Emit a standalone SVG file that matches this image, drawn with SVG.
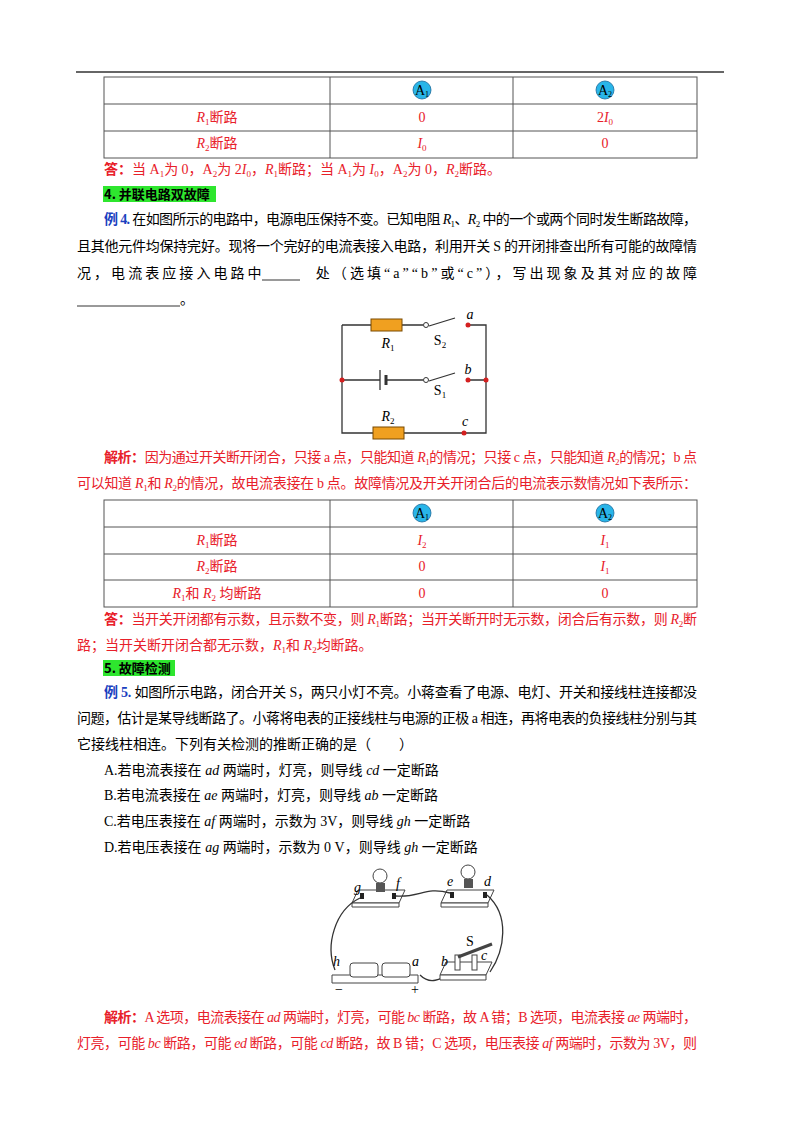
<svg xmlns="http://www.w3.org/2000/svg" width="800" height="1132" viewBox="0 0 800 1132">
<style>
text{font-family:"Liberation Serif","Noto Sans CJK SC",serif;font-size:14px;fill:#000}
.r{fill:#e8202a}
.c{text-anchor:middle}
.b{font-weight:bold}
.i{font-style:italic}
.blue{fill:#1a3fc0;font-weight:bold}
.h{font-family:"Noto Sans CJK SC",sans-serif;font-weight:bold;font-size:13px}
.tl{stroke:#555;stroke-width:1;fill:none}
.w{stroke:#333;stroke-width:1.3;fill:none}
.dot{fill:#d42020}
.res{fill:#f0a020;stroke:#7a4a00;stroke-width:1}
.amm{fill:#29b5e8;stroke:#1a6a9a;stroke-width:0.8}
.ph{stroke:#444;stroke-width:1;fill:#fff}
</style>
<line x1="76" y1="72" x2="724" y2="72" stroke="#333" stroke-width="1.5"/>
<g id="table1">
<rect x="104" y="77" width="593" height="81" class="tl"/>
<line x1="104" y1="104" x2="697" y2="104" class="tl"/>
<line x1="104" y1="131" x2="697" y2="131" class="tl"/>
<line x1="330" y1="77" x2="330" y2="158" class="tl"/>
<line x1="513" y1="77" x2="513" y2="158" class="tl"/>
<ellipse cx="422" cy="90" rx="9" ry="9" class="amm"/><text x="422" y="95" class="c" font-size="12">A<tspan font-size="8" dy="2">1</tspan></text>
<ellipse cx="605" cy="90" rx="9" ry="9" class="amm"/><text x="605" y="95" class="c" font-size="12">A<tspan font-size="8" dy="2">2</tspan></text>
<text x="217" y="122" class="r c"><tspan class="i">R</tspan><tspan font-size="9" dy="3">1</tspan><tspan dy="-3">断路</tspan></text>
<text x="422" y="122" class="r c">0</text>
<text x="605" y="122" class="r c">2<tspan class="i">I</tspan><tspan font-size="9" dy="3">0</tspan></text>
<text x="217" y="148" class="r c"><tspan class="i">R</tspan><tspan font-size="9" dy="3">2</tspan><tspan dy="-3">断路</tspan></text>
<text x="422" y="148" class="r c"><tspan class="i">I</tspan><tspan font-size="9" dy="3">0</tspan></text>
<text x="605" y="148" class="r c">0</text>
</g>
<text x="104" y="174" class="r"><tspan class="b">答：</tspan>当 A<tspan font-size="9" dy="3">1</tspan><tspan dy="-3">为 0，A</tspan><tspan font-size="9" dy="3">2</tspan><tspan dy="-3">为 2</tspan><tspan class="i">I</tspan><tspan font-size="9" dy="3">0</tspan><tspan dy="-3">，</tspan><tspan class="i">R</tspan><tspan font-size="9" dy="3">1</tspan><tspan dy="-3">断路；当 A</tspan><tspan font-size="9" dy="3">1</tspan><tspan dy="-3">为 </tspan><tspan class="i">I</tspan><tspan font-size="9" dy="3">0</tspan><tspan dy="-3">，A</tspan><tspan font-size="9" dy="3">2</tspan><tspan dy="-3">为 0，</tspan><tspan class="i">R</tspan><tspan font-size="9" dy="3">2</tspan><tspan dy="-3">断路。</tspan></text>
<rect x="103" y="186" width="113" height="16" fill="#2ee62e"/>
<text x="104" y="199" class="h">4. 并联电路双故障</text>
<text x="104" y="224" textLength="593" lengthAdjust="spacing"><tspan class="blue">例 4.</tspan> 在如图所示的电路中，电源电压保持不变。已知电阻 <tspan class="i">R</tspan><tspan font-size="9" dy="3">1</tspan><tspan dy="-3">、</tspan><tspan class="i">R</tspan><tspan font-size="9" dy="3">2</tspan><tspan dy="-3"> 中的一个或两个同时发生断路故障，</tspan></text>
<text x="77" y="251" textLength="620" lengthAdjust="spacing">且其他元件均保持完好。现将一个完好的电流表接入电路，利用开关 S 的开闭排查出所有可能的故障情</text>
<text x="77" y="278" textLength="620" lengthAdjust="spacing">况，电流表应接入电路中　　　处（选填“a”“b”或“c”），写出现象及其对应的故障</text>
<line x1="262" y1="280" x2="300" y2="280" stroke="#000" stroke-width="0.8"/>
<line x1="77" y1="306" x2="180" y2="306" stroke="#000" stroke-width="0.8"/>
<text x="180" y="304">。</text>
<g id="circuit1">
<path class="w" d="M342,325 H371 M402,325 H423 M429,326 L455,318 M466,325 H486 V433 H404 M373,433 H342 V325"/>
<path class="w" d="M342,380 H380 M386,380 H423 M429,381 L455,373 M466,380 H486"/>
<line x1="380" y1="370" x2="380" y2="390" stroke="#333" stroke-width="1.3"/>
<line x1="386" y1="375" x2="386" y2="385" stroke="#333" stroke-width="3"/>
<circle cx="426" cy="325" r="2.5" fill="#fff" stroke="#333"/>
<circle cx="426" cy="380" r="2.5" fill="#fff" stroke="#333"/>
<rect x="371" y="319" width="31" height="12" class="res"/>
<rect x="373" y="427" width="31" height="12" class="res"/>
<circle cx="468" cy="325" r="2.5" class="dot"/><circle cx="468" cy="380" r="2.5" class="dot"/>
<circle cx="486" cy="380" r="2.5" class="dot"/><circle cx="342" cy="380" r="2.5" class="dot"/>
<circle cx="464" cy="433" r="2.5" class="dot"/>
<text x="388" y="348" class="c"><tspan class="i">R</tspan><tspan font-size="9" dy="3">1</tspan></text>
<text x="388" y="421" class="c"><tspan class="i">R</tspan><tspan font-size="9" dy="3">2</tspan></text>
<text x="440" y="345" class="c">S<tspan font-size="9" dy="3">2</tspan></text>
<text x="440" y="395" class="c">S<tspan font-size="9" dy="3">1</tspan></text>
<text x="470" y="319" class="c i">a</text><text x="468" y="374" class="c i">b</text><text x="465" y="426" class="c i">c</text>
</g>
<text x="104" y="462" class="r" textLength="593" lengthAdjust="spacing"><tspan class="b">解析：</tspan>因为通过开关断开闭合，只接 a 点，只能知道 <tspan class="i">R</tspan><tspan font-size="9" dy="3">1</tspan><tspan dy="-3">的情况；只接 c 点，只能知道 </tspan><tspan class="i">R</tspan><tspan font-size="9" dy="3">2</tspan><tspan dy="-3">的情况；b 点</tspan></text>
<text x="77" y="488" class="r" textLength="620" lengthAdjust="spacing">可以知道 <tspan class="i">R</tspan><tspan font-size="9" dy="3">1</tspan><tspan dy="-3">和 </tspan><tspan class="i">R</tspan><tspan font-size="9" dy="3">2</tspan><tspan dy="-3">的情况，故电流表接在 b 点。故障情况及开关开闭合后的电流表示数情况如下表所示：</tspan></text>
<g id="table2">
<rect x="104" y="500" width="593" height="107" class="tl"/>
<line x1="104" y1="527" x2="697" y2="527" class="tl"/>
<line x1="104" y1="554" x2="697" y2="554" class="tl"/>
<line x1="104" y1="580" x2="697" y2="580" class="tl"/>
<line x1="330" y1="500" x2="330" y2="607" class="tl"/>
<line x1="513" y1="500" x2="513" y2="607" class="tl"/>
<ellipse cx="422" cy="513" rx="9" ry="9" class="amm"/><text x="422" y="518" class="c" font-size="12">A<tspan font-size="8" dy="2">1</tspan></text>
<ellipse cx="605" cy="513" rx="9" ry="9" class="amm"/><text x="605" y="518" class="c" font-size="12">A<tspan font-size="8" dy="2">2</tspan></text>
<text x="217" y="545" class="r c"><tspan class="i">R</tspan><tspan font-size="9" dy="3">1</tspan><tspan dy="-3">断路</tspan></text>
<text x="422" y="545" class="r c"><tspan class="i">I</tspan><tspan font-size="9" dy="3">2</tspan></text>
<text x="605" y="545" class="r c"><tspan class="i">I</tspan><tspan font-size="9" dy="3">1</tspan></text>
<text x="217" y="571" class="r c"><tspan class="i">R</tspan><tspan font-size="9" dy="3">2</tspan><tspan dy="-3">断路</tspan></text>
<text x="422" y="571" class="r c">0</text>
<text x="605" y="571" class="r c"><tspan class="i">I</tspan><tspan font-size="9" dy="3">1</tspan></text>
<text x="217" y="598" class="r c"><tspan class="i">R</tspan><tspan font-size="9" dy="3">1</tspan><tspan dy="-3">和 </tspan><tspan class="i">R</tspan><tspan font-size="9" dy="3">2</tspan><tspan dy="-3"> 均断路</tspan></text>
<text x="422" y="598" class="r c">0</text>
<text x="605" y="598" class="r c">0</text>
</g>
<text x="104" y="624" class="r" textLength="593" lengthAdjust="spacing"><tspan class="b">答：</tspan>当开关开闭都有示数，且示数不变，则 <tspan class="i">R</tspan><tspan font-size="9" dy="3">1</tspan><tspan dy="-3">断路；当开关断开时无示数，闭合后有示数，则 </tspan><tspan class="i">R</tspan><tspan font-size="9" dy="3">2</tspan><tspan dy="-3">断</tspan></text>
<text x="77" y="650" class="r">路；当开关断开闭合都无示数，<tspan class="i">R</tspan><tspan font-size="9" dy="3">1</tspan><tspan dy="-3">和 </tspan><tspan class="i">R</tspan><tspan font-size="9" dy="3">2</tspan><tspan dy="-3">均断路。</tspan></text>
<rect x="103" y="660" width="72" height="16" fill="#2ee62e"/>
<text x="104" y="673" class="h">5. 故障检测</text>
<text x="104" y="697" textLength="593" lengthAdjust="spacing"><tspan class="blue">例 5.</tspan> 如图所示电路，闭合开关 S，两只小灯不亮。小蒋查看了电源、电灯、开关和接线柱连接都没</text>
<text x="77" y="723" textLength="620" lengthAdjust="spacing">问题，估计是某导线断路了。小蒋将电表的正接线柱与电源的正极 a 相连，再将电表的负接线柱分别与其</text>
<text x="77" y="749">它接线柱相连。下列有关检测的推断正确的是（　　）</text>
<text x="104" y="775">A.若电流表接在 <tspan class="i">ad</tspan> 两端时，灯亮，则导线 <tspan class="i">cd</tspan> 一定断路</text>
<text x="104" y="800">B.若电流表接在 <tspan class="i">ae</tspan> 两端时，灯亮，则导线 <tspan class="i">ab</tspan> 一定断路</text>
<text x="104" y="826">C.若电压表接在 <tspan class="i">af</tspan> 两端时，示数为 3V，则导线 <tspan class="i">gh</tspan> 一定断路</text>
<text x="104" y="852">D.若电压表接在 <tspan class="i">ag</tspan> 两端时，示数为 0  V，则导线 <tspan class="i">gh</tspan> 一定断路</text>
<g id="photo">
<path class="ph" d="M352,903 L358,890 H405 L399,903 Z"/>
<path class="ph" d="M352,903 H399 V907 H352 Z"/>
<path class="ph" d="M441,903 L447,890 H494 L488,903 Z"/>
<path class="ph" d="M441,903 H488 V907 H441 Z"/>
<circle cx="380" cy="876" r="7" class="ph"/><rect x="376" y="883" width="9" height="9" fill="#555"/>
<circle cx="468" cy="872" r="7" class="ph"/><rect x="464" y="879" width="9" height="9" fill="#555"/>
<rect x="360" y="893" width="4" height="6" fill="#222"/><rect x="392" y="893" width="4" height="6" fill="#222"/>
<rect x="450" y="892" width="4" height="6" fill="#222"/><rect x="483" y="892" width="4" height="6" fill="#222"/>
<path class="w" fill="none" stroke-width="0.8" d="M396,896 C420,898 425,886 450,893 M487,895 C510,915 505,950 490,972 M360,898 C335,910 325,945 335,970 M420,975 C430,985 440,980 452,972"/>
<path class="ph" d="M332,975 H418 V983 H332 Z"/>
<rect x="350" y="963" width="28" height="14" rx="3" class="ph"/><rect x="382" y="963" width="28" height="14" rx="3" class="ph"/>
<path class="ph" d="M440,975 L446,962 H492 L486,975 Z"/><path class="ph" d="M440,975 H486 V980 H440 Z"/>
<rect x="455" y="955" width="5" height="15" class="ph"/><rect x="472" y="955" width="5" height="15" class="ph"/>
<line x1="458" y1="957" x2="492" y2="944" stroke="#444" stroke-width="3"/>
<text x="354" y="892" class="i" font-size="12">g</text><text x="396" y="888" class="i" font-size="12">f</text>
<text x="447" y="886" class="i" font-size="12">e</text><text x="484" y="886" class="i" font-size="12">d</text>
<text x="333" y="966" class="i" font-size="12">h</text><text x="412" y="966" class="i" font-size="12">a</text>
<text x="441" y="966" class="i" font-size="12">b</text><text x="481" y="960" class="i" font-size="12">c</text>
<text x="466" y="946" font-size="12">S</text>
<text x="335" y="994" font-size="12">−</text><text x="411" y="994" font-size="12">+</text>
</g>
<text x="104" y="1022" class="r" textLength="593" lengthAdjust="spacing"><tspan class="b">解析：</tspan>A 选项，电流表接在 <tspan class="i">ad</tspan> 两端时，灯亮，可能 <tspan class="i">bc</tspan> 断路，故 A 错；B 选项，电流表接 <tspan class="i">ae</tspan> 两端时，</text>
<text x="77" y="1048" class="r" textLength="620" lengthAdjust="spacing">灯亮，可能 <tspan class="i">bc</tspan> 断路，可能 <tspan class="i">ed</tspan> 断路，可能 <tspan class="i">cd</tspan> 断路，故 B 错；C 选项，电压表接 <tspan class="i">af</tspan> 两端时，示数为 3V，则</text>
</svg>
